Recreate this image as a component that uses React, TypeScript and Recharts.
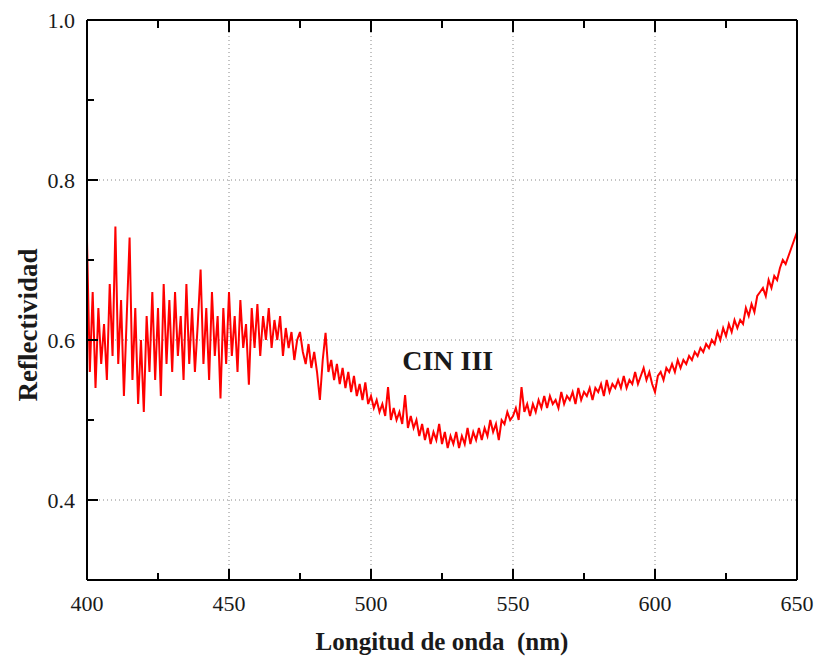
import { LineChart, Line, XAxis, YAxis, CartesianGrid, ReferenceDot } from 'recharts';

// reflectance, 1 nm steps starting at 400 nm
const startNm = 400;
const refl400s = [0.724, 0.56, 0.66, 0.54, 0.64, 0.57, 0.62, 0.55, 0.67, 0.58,
  0.742, 0.57, 0.65, 0.53, 0.63, 0.728, 0.55, 0.64, 0.52, 0.60,
  0.51, 0.63, 0.56, 0.66, 0.55, 0.64, 0.53, 0.67, 0.57, 0.65,
  0.56, 0.66, 0.58, 0.63, 0.55, 0.67, 0.57, 0.64, 0.56, 0.62,
  0.688, 0.57, 0.64, 0.55, 0.66, 0.58, 0.63, 0.527, 0.64, 0.57];
const refl450s = [0.66, 0.58, 0.63, 0.56, 0.65, 0.59, 0.62, 0.544, 0.64, 0.59,
  0.645, 0.58, 0.63, 0.60, 0.64, 0.59, 0.625, 0.60, 0.63, 0.58,
  0.615, 0.59, 0.61, 0.575, 0.60, 0.61, 0.585, 0.57, 0.595, 0.565,
  0.585, 0.56, 0.525, 0.575, 0.609, 0.56, 0.575, 0.55, 0.57, 0.545,
  0.565, 0.54, 0.56, 0.535, 0.555, 0.53, 0.545, 0.525, 0.547, 0.52];
const refl500s = [0.53, 0.515, 0.525, 0.51, 0.52, 0.505, 0.541, 0.50, 0.515, 0.50,
  0.51, 0.495, 0.531, 0.49, 0.505, 0.49, 0.50, 0.48, 0.495, 0.475,
  0.49, 0.47, 0.485, 0.475, 0.495, 0.47, 0.485, 0.465, 0.48, 0.47,
  0.485, 0.465, 0.48, 0.47, 0.49, 0.47, 0.485, 0.475, 0.49, 0.475,
  0.49, 0.48, 0.50, 0.485, 0.495, 0.475, 0.50, 0.495, 0.51, 0.50];
const refl550s = [0.505, 0.515, 0.50, 0.541, 0.51, 0.52, 0.505, 0.52, 0.51, 0.525,
  0.515, 0.53, 0.515, 0.53, 0.52, 0.525, 0.515, 0.535, 0.52, 0.53,
  0.525, 0.535, 0.52, 0.54, 0.525, 0.535, 0.53, 0.54, 0.525, 0.54,
  0.535, 0.545, 0.53, 0.55, 0.535, 0.545, 0.54, 0.55, 0.54, 0.555,
  0.54, 0.55, 0.545, 0.56, 0.545, 0.555, 0.565, 0.55, 0.56, 0.545];
const refl600s = [0.535, 0.555, 0.56, 0.55, 0.565, 0.56, 0.57, 0.56, 0.575, 0.565,
  0.575, 0.57, 0.58, 0.575, 0.585, 0.58, 0.59, 0.585, 0.595, 0.59,
  0.60, 0.595, 0.61, 0.60, 0.615, 0.605, 0.62, 0.61, 0.625, 0.615,
  0.625, 0.62, 0.64, 0.63, 0.645, 0.635, 0.655, 0.66, 0.665, 0.655,
  0.675, 0.665, 0.68, 0.675, 0.69, 0.70, 0.695, 0.705, 0.715, 0.725,
  0.735];

const xMajor = [400, 450, 500, 550, 600, 650];
const xMinor = [425, 475, 525, 575, 625];
const yMajor = [0.4, 0.6, 0.8, 1.0];
const yMinor = [0.3, 0.5, 0.7, 0.9];

const reflectance = [...refl400s, ...refl450s, ...refl500s, ...refl550s, ...refl600s];
const data = reflectance.map((r, i) => ({ nm: startNm + i, r }));

const font = '"Liberation Serif", "Times New Roman", serif';
const ink = '#1a1a1a';
const MARGIN = 22;
const MAJOR_LEN = 11;
const MINOR_LEN = 7;

// ticks point into the plot, like the original instrument software draws them
const BottomTick = ({ x, y, payload }) => {
  const major = xMajor.includes(payload.value);
  const axisY = y - MARGIN;
  const len = major ? MAJOR_LEN : MINOR_LEN;
  return (
    <g>
      <rect x={x - 1} y={axisY - len} width={2} height={len} fill="#000" />
      {major && (
        <text x={x} y={axisY + 23} textAnchor="middle" dominantBaseline="central" fontSize={22} fontFamily={font} fill={ink}>
          {payload.value}
        </text>
      )}
    </g>
  );
};

const LeftTick = ({ x, y, payload }) => {
  const major = yMajor.includes(payload.value);
  const axisX = x + MARGIN;
  return (
    <g>
      <rect x={axisX} y={y - 1} width={major ? MAJOR_LEN : MINOR_LEN} height={2} fill="#000" />
      {major && (
        <text x={axisX - 12} y={y} textAnchor="end" dominantBaseline="central" fontSize={22} fontFamily={font} fill={ink}>
          {payload.value.toFixed(1)}
        </text>
      )}
    </g>
  );
};

const TopTick = ({ x, y, payload }) => {
  const major = xMajor.includes(payload.value);
  return <rect x={x - 1} y={y} width={2} height={major ? MAJOR_LEN + 1 : MINOR_LEN + 1} fill="#000" />;
};

const RightTick = ({ x, y, payload }) => {
  const len = yMajor.includes(payload.value) ? MAJOR_LEN + 1 : MINOR_LEN + 1;
  return <rect x={x - len} y={y - 1} width={len} height={2} fill="#000" />;
};

export default function App() {
  const allX = [...xMajor, ...xMinor].sort((a, b) => a - b);
  const allY = [...yMajor, ...yMinor].sort((a, b) => a - b);
  return (
    <div style={{ position: 'absolute', left: 0, top: 0, width: 814, height: 663, background: '#fff' }}>
      <LineChart width={814} height={663} data={data} margin={{ top: 19, right: 16, left: 27, bottom: 0 }}>
        <CartesianGrid
          stroke="#888"
          strokeDasharray="1 3"
          verticalValues={[450, 500, 550, 600]}
          horizontalValues={[0.4, 0.6, 0.8]}
        />
        <XAxis
          dataKey="nm"
          type="number"
          domain={[400, 650]}
          ticks={allX}
          interval={0}
          height={83}
          tickSize={0}
          tickMargin={MARGIN}
          tickLine={false}
          tick={BottomTick}
          axisLine={{ stroke: '#000', strokeWidth: 2 }}
          label={{
            value: 'Longitud de onda\u00a0 (nm)',
            position: 'insideBottom',
            offset: 13,
            fontSize: 25,
            fontWeight: 'bold',
            fontFamily: font,
            fill: ink,
          }}
        />
        <XAxis
          xAxisId="top"
          orientation="top"
          dataKey="nm"
          type="number"
          domain={[400, 650]}
          ticks={allX}
          interval={0}
          height={1}
          tickSize={0}
          tickMargin={0}
          tickLine={false}
          tick={TopTick}
          axisLine={{ stroke: '#000', strokeWidth: 2 }}
        />
        <YAxis
          type="number"
          domain={[0.3, 1.0]}
          ticks={allY}
          interval={0}
          width={60}
          tickSize={0}
          tickMargin={MARGIN}
          tickLine={false}
          tick={LeftTick}
          axisLine={{ stroke: '#000', strokeWidth: 2 }}
          label={() => (
            <text
              x={28}
              y={325}
              transform="rotate(-90 28 325)"
              textAnchor="middle"
              dominantBaseline="central"
              fontSize={27}
              fontWeight="bold"
              fontFamily={font}
              fill={ink}
            >
              Reflectividad
            </text>
          )}
        />
        <YAxis
          yAxisId="right"
          orientation="right"
          type="number"
          domain={[0.3, 1.0]}
          ticks={allY}
          interval={0}
          width={1}
          tickSize={0}
          tickMargin={0}
          tickLine={false}
          tick={RightTick}
          axisLine={{ stroke: '#000', strokeWidth: 2 }}
        />
        <Line type="linear" dataKey="r" stroke="#ff0000" strokeWidth={2} dot={false} isAnimationActive={false} />
        <ReferenceDot
          x={527}
          y={0.575}
          r={0}
          stroke="none"
          label={{ value: 'CIN III', position: 'center', fontSize: 28, fontWeight: 'bold', fontFamily: font, fill: ink }}
        />
      </LineChart>
    </div>
  );
}
